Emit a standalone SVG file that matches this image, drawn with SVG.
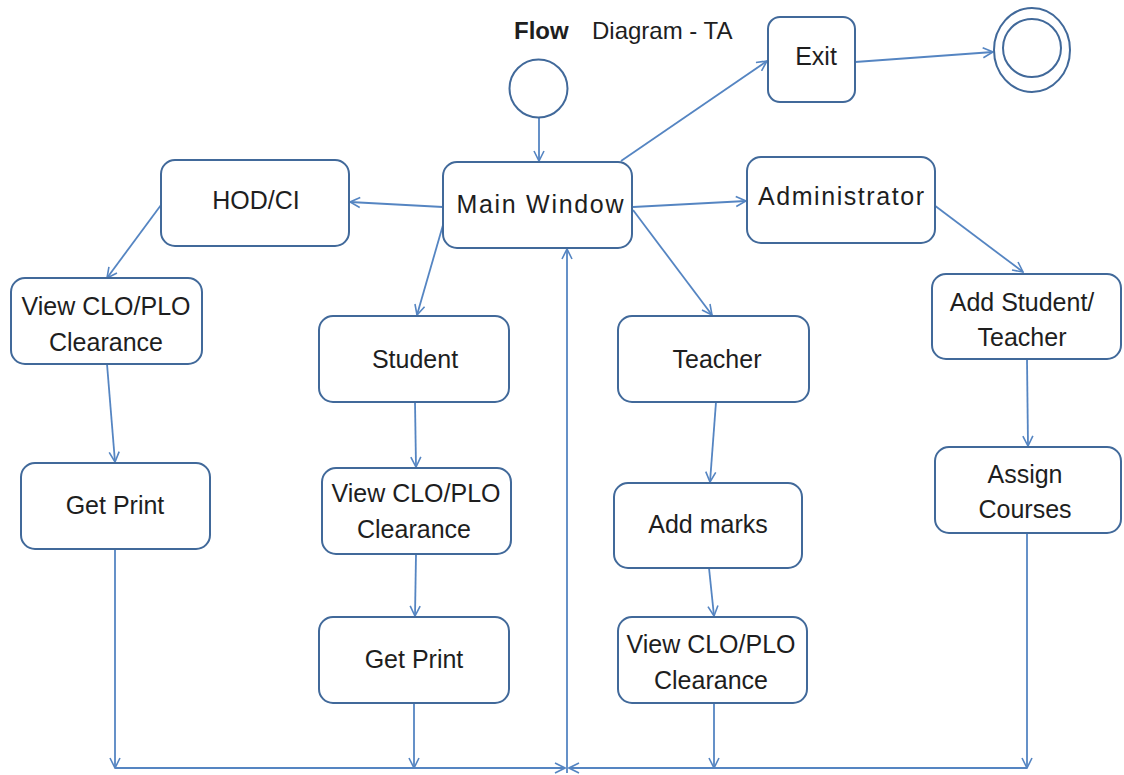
<svg xmlns="http://www.w3.org/2000/svg" width="1124" height="775" viewBox="0 0 1124 775">
  <style>
    .box { fill: #ffffff; stroke: #41699A; stroke-width: 2; }
    .state { fill: none; stroke: #41699A; stroke-width: 2; }
    .lbl { font-family: "Liberation Sans", Arial, sans-serif; font-size: 25px; fill: #1e1e1e; text-anchor: middle; }
    .ttl { font-family: "Liberation Sans", Arial, sans-serif; font-size: 24px; fill: #1e1e1e; }
    .edge { fill: none; stroke: #5585C2; stroke-width: 1.8; }
    .edge-end { marker-end: url(#arr); }
  </style>
  <defs>
    <marker id="arr" viewBox="0 0 12 12" refX="11" refY="6" markerWidth="12" markerHeight="12" markerUnits="userSpaceOnUse" orient="auto">
      <path d="M1,1 L11,6 L1,11" fill="none" stroke="#5585C2" stroke-width="1.6"/>
    </marker>
  </defs>
  <rect width="1124" height="775" fill="#ffffff"/>

  <!-- title -->
  <g id="title">
    <text class="ttl" x="514" y="39" font-weight="bold" font-size="25">Flow</text>
    <text class="ttl" x="592" y="39">Diagram - TA</text>
  </g>

  <!-- connectors -->
  <g id="connectors">
    <line class="edge edge-end" x1="539" y1="118" x2="539" y2="161"/>
    <line class="edge edge-end" x1="621" y1="161" x2="767" y2="61"/>
    <line class="edge edge-end" x1="855" y1="62" x2="993" y2="52"/>
    <line class="edge edge-end" x1="443" y1="207" x2="350" y2="202"/>
    <line class="edge edge-end" x1="443" y1="225" x2="417" y2="315"/>
    <line class="edge edge-end" x1="633" y1="207" x2="746" y2="201"/>
    <line class="edge edge-end" x1="633" y1="210" x2="712" y2="315"/>
    <line class="edge edge-end" x1="934" y1="205" x2="1023" y2="272"/>
    <line class="edge edge-end" x1="161" y1="205" x2="107" y2="278"/>
    <line class="edge edge-end" x1="107" y1="364" x2="115" y2="462"/>
    <line class="edge edge-end" x1="415" y1="402" x2="416" y2="467"/>
    <line class="edge edge-end" x1="416" y1="554" x2="415" y2="616"/>
    <line class="edge edge-end" x1="716" y1="402" x2="710" y2="482"/>
    <line class="edge edge-end" x1="709" y1="568" x2="714" y2="616"/>
    <line class="edge edge-end" x1="1027" y1="359" x2="1028" y2="446"/>
    <!-- collector lines along the bottom -->
    <line class="edge edge-end" x1="115" y1="549" x2="115" y2="768"/>
    <line class="edge edge-end" x1="414" y1="703" x2="414" y2="768"/>
    <line class="edge edge-end" x1="714" y1="703" x2="714" y2="768"/>
    <line class="edge edge-end" x1="1027" y1="533" x2="1027" y2="768"/>
    <line class="edge edge-end" x1="115" y1="768" x2="565" y2="768"/>
    <line class="edge edge-end" x1="1027" y1="768" x2="569" y2="768"/>
    <line class="edge edge-end" x1="567" y1="773" x2="567" y2="249"/>
  </g>

  <!-- start / end states -->
  <g id="start">
    <circle class="state" cx="538.5" cy="88.5" r="29"/>
  </g>
  <g id="end">
    <ellipse class="state" cx="1032" cy="50" rx="38" ry="42"/>
    <ellipse class="state" cx="1032" cy="48" rx="29" ry="29"/>
  </g>

  <!-- nodes -->
  <g id="exit">
    <rect class="box" x="768" y="17" width="87" height="85" rx="12"/>
    <text class="lbl" x="816" y="65">Exit</text>
  </g>
  <g id="main-window">
    <rect class="box" x="443" y="162" width="189" height="86" rx="14"/>
    <text class="lbl" x="540" y="213" textLength="167" lengthAdjust="spacing">Main Window</text>
  </g>
  <g id="hod-ci">
    <rect class="box" x="161" y="160" width="188" height="86" rx="14"/>
    <text class="lbl" x="256" y="209">HOD/CI</text>
  </g>
  <g id="administrator">
    <rect class="box" x="747" y="157" width="188" height="86" rx="14"/>
    <text class="lbl" x="841" y="205" textLength="166" lengthAdjust="spacing">Administrator</text>
  </g>
  <g id="hod-view-clearance">
    <rect class="box" x="11" y="278" width="191" height="86" rx="14"/>
    <text class="lbl" x="106" y="315">View CLO/PLO</text>
    <text class="lbl" x="106" y="351">Clearance</text>
  </g>
  <g id="hod-get-print">
    <rect class="box" x="21" y="463" width="189" height="86" rx="14"/>
    <text class="lbl" x="115" y="514">Get Print</text>
  </g>
  <g id="student">
    <rect class="box" x="319" y="316" width="190" height="86" rx="14"/>
    <text class="lbl" x="415" y="368">Student</text>
  </g>
  <g id="student-view-clearance">
    <rect class="box" x="322" y="468" width="189" height="86" rx="14"/>
    <text class="lbl" x="416" y="502">View CLO/PLO</text>
    <text class="lbl" x="414" y="538">Clearance</text>
  </g>
  <g id="student-get-print">
    <rect class="box" x="319" y="617" width="190" height="86" rx="14"/>
    <text class="lbl" x="414" y="668">Get Print</text>
  </g>
  <g id="teacher">
    <rect class="box" x="618" y="316" width="191" height="86" rx="14"/>
    <text class="lbl" x="717" y="368">Teacher</text>
  </g>
  <g id="add-marks">
    <rect class="box" x="614" y="483" width="188" height="85" rx="14"/>
    <text class="lbl" x="708" y="533">Add marks</text>
  </g>
  <g id="teacher-view-clearance">
    <rect class="box" x="618" y="617" width="189" height="86" rx="14"/>
    <text class="lbl" x="711" y="653">View CLO/PLO</text>
    <text class="lbl" x="711" y="689">Clearance</text>
  </g>
  <g id="add-student-teacher">
    <rect class="box" x="932" y="274" width="189" height="85" rx="14"/>
    <text class="lbl" x="1022" y="311">Add Student/</text>
    <text class="lbl" x="1022" y="346">Teacher</text>
  </g>
  <g id="assign-courses">
    <rect class="box" x="935" y="447" width="186" height="86" rx="14"/>
    <text class="lbl" x="1025" y="483">Assign</text>
    <text class="lbl" x="1025" y="518">Courses</text>
  </g>
</svg>
